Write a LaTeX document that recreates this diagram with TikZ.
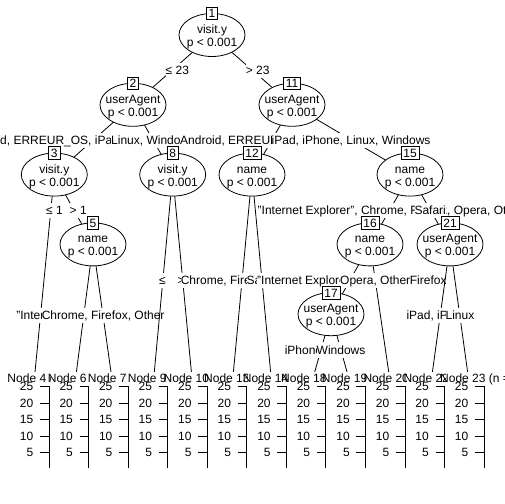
\documentclass[tikz,border=0pt]{standalone}
\usepackage{fontspec}
\setmainfont{Liberation Sans}
\usetikzlibrary{shapes.geometric}
\begin{document}
\begin{tikzpicture}[x=1bp,y=-1bp,
  lw/.style={line width=0.8bp},
  conn/.style={lw, black},
  inode/.style={ellipse, draw, lw, fill=white, minimum width=66bp, minimum height=43bp, inner sep=0pt},
  itext/.style={align=center, inner sep=0pt, text height=22bp, text depth=2.5bp, font=\fontsize{12bp}{13bp}\selectfont},
  idbox/.style={draw, lw, fill=white, inner xsep=2.4bp, inner ysep=2bp, text height=8.6bp, text depth=0pt, font=\fontsize{12bp}{13bp}\selectfont},
  elab/.style={fill=white, anchor=west, inner xsep=0pt, inner ysep=1.7bp, text height=10bp, text depth=2bp, font=\fontsize{12bp}{13bp}\selectfont},
  ticklab/.style={anchor=east, inner sep=0pt, font=\fontsize{12bp}{13bp}\selectfont},
  ptitle/.style={anchor=base west, inner sep=0pt, font=\fontsize{12bp}{13bp}\selectfont},
]
\useasboundingbox (0,0) rectangle (504,504);
\fill[white] (0,0) rectangle (504,504);

% centres of inner nodes
\coordinate (c1) at (212,35);
\coordinate (c2) at (133,104.8);
\coordinate (c11) at (292,104.8);
\coordinate (c3) at (54.3,174.6);
\coordinate (c8) at (172.7,174.6);
\coordinate (c12) at (252,174.6);
\coordinate (c15) at (410,174.6);
\coordinate (c5) at (93,244.4);
\coordinate (c16) at (370,244.4);
\coordinate (c21) at (450,244.4);
\coordinate (c17) at (331,314.2);
% tops of terminal panels
\coordinate (t4) at (35,372);
\coordinate (t6) at (76.4,372);
\coordinate (t7) at (111,372);
\coordinate (t9) at (154.3,372);
\coordinate (t10) at (191.4,372);
\coordinate (t13) at (233.4,372);
\coordinate (t14) at (270.6,372);
\coordinate (t18) at (314.7,372);
\coordinate (t19) at (347,372);
\coordinate (t20) at (388.7,372);
\coordinate (t22) at (432.4,372);
\coordinate (t23) at (467.6,372);

% node 1
\draw[conn] (c1) -- (c2);
\node[elab] (l2) at (165.5,70.5) {≤ 23};
\draw[conn] (c1) -- (c11);
\node[elab] (l11) at (245.7,70.5) {> 23};
\node[inode] (n1) at (c1) {};
\node[itext] (n1t) at (212,36.75) {visit.y\\p < 0.001};
\node[idbox] (b1) at (212,13.5) {1};

% node 2
\draw[conn] (c2) -- (c3);
\node[elab] (l3) at (-34.7,140.5) {Android, ERREUR\_OS, iPad, iPhone};
\draw[conn] (c2) -- (c8);
\node[elab] (l8) at (111,140.5) {Linux, Windows};
\node[inode] (n2) at (c2) {};
\node[itext] (n2t) at (133,106.55) {userAgent\\p < 0.001};
\node[idbox] (b2) at (133,83.3) {2};

% node 3
\draw[conn] (c3) -- (t4);
\node[elab] (l4) at (46,210.5) {≤ 1};
\draw[conn] (c3) -- (c5);
\node[elab] (l5) at (69.5,210.5) {> 1};
\node[inode] (n3) at (c3) {};
\node[itext] (n3t) at (54.3,176.35) {visit.y\\p < 0.001};
\node[idbox] (b3) at (54.3,153.1) {3};

% node 5
\draw[conn] (c5) -- (t6);
\node[elab] (l6) at (16.2,315.5) {"Internet Explorer"};
\draw[conn] (c5) -- (t7);
\node[elab] (l7) at (41.6,315.5) {Chrome, Firefox, Other};
\node[inode] (n5) at (c5) {};
\node[itext] (n5t) at (93,246.15) {name\\p < 0.001};
\node[idbox] (b5) at (93,222.9) {5};

% node 8
\draw[conn] (c8) -- (t9);
\node[elab] (l9) at (159,280.5) {≤};
\draw[conn] (c8) -- (t10);
\node[elab] (l10) at (177.5,280.5) {>};
\node[inode] (n8) at (c8) {};
\node[itext] (n8t) at (172.7,176.35) {visit.y\\p < 0.001};
\node[idbox] (b8) at (172.7,153.1) {8};

% node 11
\draw[conn] (c11) -- (c12);
\node[elab] (l12) at (180,140.5) {Android, ERREUR\_OS};
\draw[conn] (c11) -- (c15);
\node[elab] (l15) at (271.5,140.5) {iPad, iPhone, Linux, Windows};
\node[inode] (n11) at (c11) {};
\node[itext] (n11t) at (292,106.55) {userAgent\\p < 0.001};
\node[idbox] (b11) at (292,83.3) {11};

% node 12
\draw[conn] (c12) -- (t13);
\node[elab] (l13) at (180.6,280.5) {Chrome, Firefox, Other};
\draw[conn] (c12) -- (t14);
\node[elab] (l14) at (246.3,280.5) {Safari};
\node[inode] (n12) at (c12) {};
\node[itext] (n12t) at (252,176.35) {name\\p < 0.001};
\node[idbox] (b12) at (252,153.1) {12};

% node 15
\draw[conn] (c15) -- (c16);
\node[elab] (l16) at (257.5,210.5) {"Internet Explorer", Chrome, Firefox, Opera, Other};
\draw[conn] (c15) -- (c21);
\node[elab] (l21) at (414.3,210.5) {Safari};
\node[inode] (n15) at (c15) {};
\node[itext] (n15t) at (410,176.35) {name\\p < 0.001};
\node[idbox] (b15) at (410,153.1) {15};

% node 16
\draw[conn] (c16) -- (c17);
\node[elab] (l17) at (257,280.5) {"Internet Explorer", Chrome, Firefox};
\draw[conn] (c16) -- (t20);
\node[elab] (l20) at (340,280.5) {Opera, Other};
\node[inode] (n16) at (c16) {};
\node[itext] (n16t) at (370,246.15) {name\\p < 0.001};
\node[idbox] (b16) at (370,222.9) {16};

% node 17
\draw[conn] (c17) -- (t18);
\node[elab] (l18) at (284.6,350) {iPhone};
\draw[conn] (c17) -- (t19);
\node[elab] (l19) at (316.5,350) {Windows};
\node[inode] (n17) at (c17) {};
\node[itext] (n17t) at (331,315.95) {userAgent\\p < 0.001};
\node[idbox] (b17) at (331,292.7) {17};

% node 21
\draw[conn] (c21) -- (t22);
\node[elab] (l22) at (406.3,315.5) {iPad, iPhone};
\draw[conn] (c21) -- (t23);
\node[elab] (l23) at (445.4,315.5) {Linux};
\node[inode] (n21) at (c21) {};
\node[itext] (n21t) at (450,246.15) {userAgent\\p < 0.001};
\node[idbox] (b21) at (450,222.9) {21};

% terminal panels
\foreach \nm/\ax/\ts in {4/49/7.3, 6/88.55/47.7, 7/128.1/87.7, 9/167.65/127.7, 10/207.2/163.5, 13/246.75/204, 14/286.3/242.7, 18/325.85/281, 19/365.4/321.7, 20/404.95/363.3, 22/444.5/403.3, 23/484/440} {
  \fill[white] (\ax-38,372) rectangle (\ax+2,480);
  \draw[lw] (\ax,386) -- (\ax,467.5);
  \foreach \v in {5,10,15,20,25} {
    \draw[lw] (\ax-9,469-3.3*\v) -- (\ax,469-3.3*\v);
    \node[ticklab] (tl\nm-\v) at (\ax-15.5,469-3.3*\v) {\v};
  }
  \node[ptitle] (title\nm) at (\ts,382.3) {Node \nm\ (n =};
}
\end{tikzpicture}
\end{document}
